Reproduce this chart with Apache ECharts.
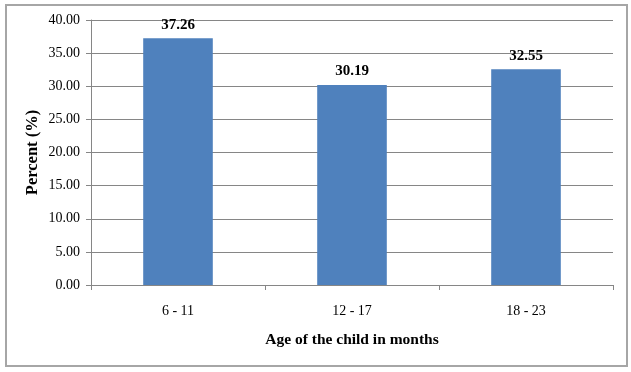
<!DOCTYPE html>
<html>
<head>
<meta charset="utf-8">
<script src="https://cdn.jsdelivr.net/npm/echarts@6/dist/echarts.min.js"></script>
<style>
html,body{margin:0;padding:0;background:#fff;}
#c{width:631px;height:372px;}
</style>
</head>
<body>
<div id="c"></div>
<script>
const categories = ["6 - 11", "12 - 17", "18 - 23"];
const percentValues = [37.26, 30.19, 32.55];
const yTicks = [0, 5, 10, 15, 20, 25, 30, 35, 40];

const chart = echarts.init(document.getElementById('c'), null, {renderer: 'canvas'});
const font = '"Liberation Serif", "Times New Roman", serif';
chart.setOption({
  animation: false,
  backgroundColor: '#fff',
  graphic: [{
    type: 'rect',
    shape: {x: 6, y: 5, width: 621, height: 361},
    style: {fill: 'none', stroke: '#a6a6a6', lineWidth: 2},
    silent: true
  }],
  grid: {left: 91, right: 18, top: 20, bottom: 87},
  xAxis: {
    type: 'category',
    data: categories,
    name: 'Age of the child in months',
    nameLocation: 'middle',
    nameGap: 47,
    nameTextStyle: {fontFamily: font, fontSize: 15.5, fontWeight: 'bold', color: '#000'},
    axisLine: {lineStyle: {color: '#868686', width: 1}},
    axisTick: {show: true, length: 5, lineStyle: {color: '#868686'}},
    axisLabel: {fontFamily: font, fontSize: 14, color: '#000', margin: 19}
  },
  yAxis: {
    type: 'value',
    min: 0, max: 40, interval: 5,
    name: 'Percent (%)',
    nameLocation: 'middle',
    nameGap: 50,
    nameMoveOverlap: false,
    nameTextStyle: {fontFamily: font, fontSize: 16.5, fontWeight: 'bold', color: '#000'},
    axisLine: {show: true, lineStyle: {color: '#868686', width: 1}},
    axisTick: {show: true, length: 5, lineStyle: {color: '#868686'}},
    splitLine: {show: true, lineStyle: {color: '#868686', width: 1}},
    axisLabel: {fontFamily: font, fontSize: 14, color: '#000', margin: 11,
      formatter: v => yTicks.includes(v) ? v.toFixed(2) : ''}
  },
  series: [{
    type: 'bar',
    data: percentValues,
    barWidth: '40%',
    itemStyle: {color: '#4F81BD'},
    label: {
      show: true, position: 'top', distance: 6,
      fontFamily: font, fontSize: 15, fontWeight: 'bold', color: '#000',
      formatter: p => p.value.toFixed(2)
    }
  }]
});
</script>
</body>
</html>
